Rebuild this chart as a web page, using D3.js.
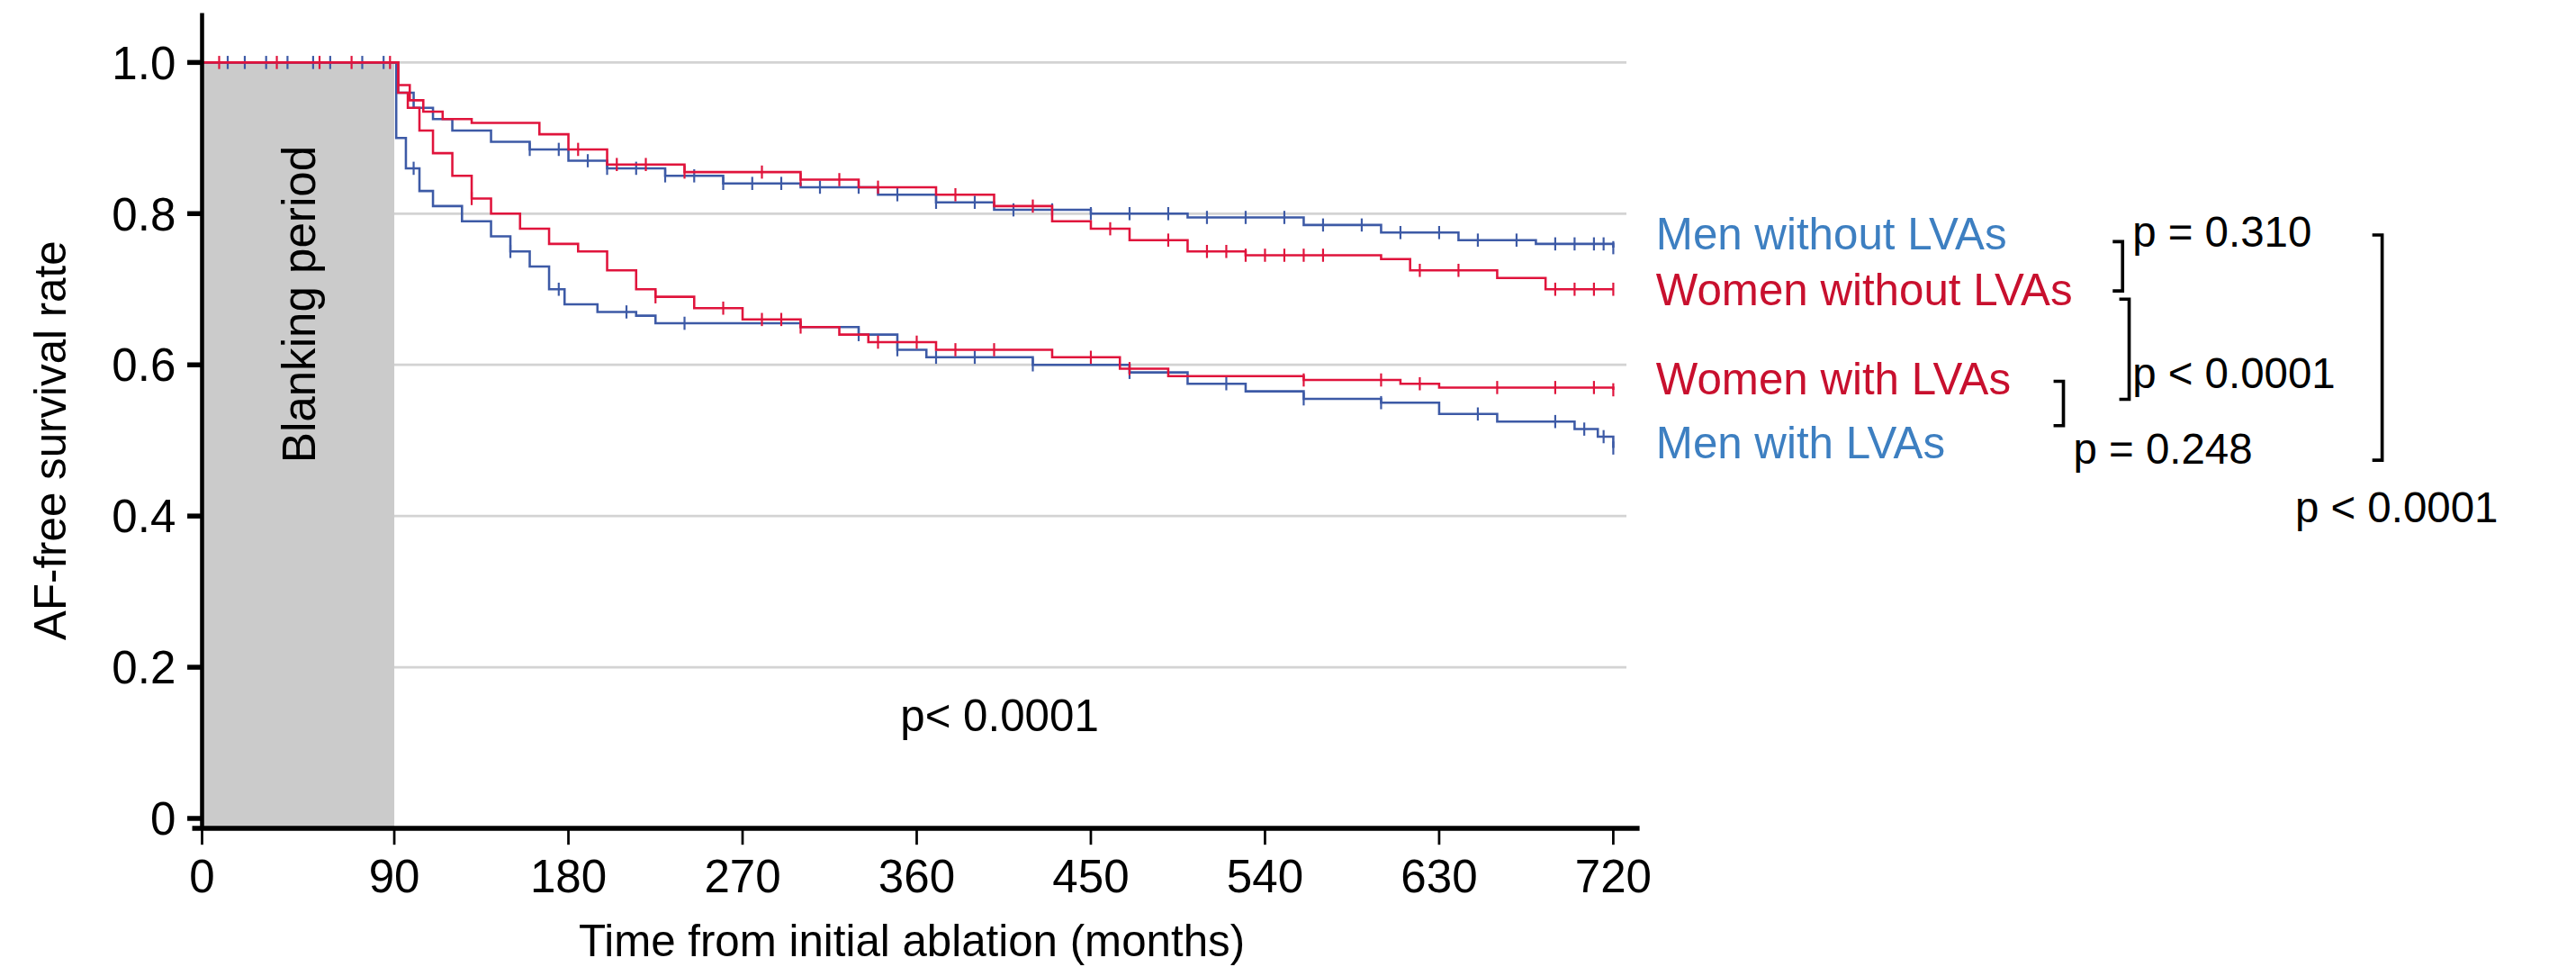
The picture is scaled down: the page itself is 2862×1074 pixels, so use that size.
<!DOCTYPE html>
<html lang="en">
<head>
<meta charset="UTF-8">
<title>AF-free survival</title>
<style>
  body { margin: 0; background: #fff; }
  svg { display: block; font-family: "Liberation Sans", Arial, sans-serif; }
</style>
<script src="https://d3js.org/d3.v7.min.js"></script>
</head>
<body>
<svg id="chart" width="2862" height="1074" viewBox="0 0 1568 588.4"></svg>
<script>
// step curves: [time, survival]
const menWithout = [[0,1],[90,1],[92,0.96],[100,0.94],[110,0.925],[120,0.91],[140,0.895],[160,0.885],[180,0.87],[200,0.86],[230,0.85],[260,0.84],[300,0.835],[340,0.825],[370,0.815],[400,0.805],[450,0.80],[500,0.795],[560,0.785],[600,0.775],[640,0.765],[680,0.76],[720,0.755]];
const womenWithout = [[0,1],[90,1],[92,0.97],[98,0.95],[105,0.935],[115,0.925],[130,0.92],[165,0.905],[180,0.885],[200,0.865],[240,0.855],[300,0.845],[330,0.835],[370,0.825],[400,0.81],[430,0.79],[450,0.78],[470,0.765],[500,0.75],[530,0.745],[600,0.74],[615,0.725],[660,0.715],[685,0.70],[720,0.70]];
const womenWith = [[0,1],[90,1],[92,0.96],[97,0.94],[103,0.91],[110,0.88],[120,0.85],[130,0.82],[140,0.80],[155,0.78],[170,0.76],[185,0.75],[200,0.725],[215,0.70],[225,0.69],[245,0.675],[270,0.66],[300,0.65],[320,0.64],[335,0.63],[370,0.62],[430,0.61],[465,0.595],[490,0.585],[560,0.58],[610,0.575],[630,0.57],[720,0.567]];
const menWith = [[0,1],[90,1],[91,0.90],[96,0.86],[103,0.83],[110,0.81],[125,0.79],[140,0.77],[150,0.75],[160,0.73],[170,0.70],[178,0.68],[195,0.67],[215,0.665],[225,0.655],[300,0.65],[330,0.64],[350,0.62],[365,0.61],[420,0.60],[470,0.59],[500,0.575],[530,0.565],[560,0.555],[600,0.55],[630,0.535],[660,0.525],[700,0.515],[712,0.505],[720,0.49]];

// censor times
const menWithoutCens = [12,20,30,40,52,60,75,85,160,175,190,200,215,230,245,260,275,290,310,330,350,370,390,410,430,450,470,490,510,530,550,570,590,610,630,650,670,690,700,710,715,720];
const womenWithoutCens = [8,35,55,70,88,185,205,220,240,280,300,320,340,380,420,460,490,510,520,530,540,550,560,570,620,640,690,700,710,720];
const womenWithCens = [130,225,260,280,290,300,340,360,380,400,450,470,560,600,620,660,690,710,720];
const menWithCens = [100,150,175,210,240,330,350,370,390,420,470,520,560,600,650,690,705,715,720];

const xTicks = [0,90,180,270,360,450,540,630,720];
const yTicks = [0,0.2,0.4,0.6,0.8,1.0];
const yTickLabels = ["0","0.2","0.4","0.6","0.8","1.0"];

const blue = "#3d5aa6", red = "#e0143c";
const series = [
  { data: menWithout, cens: menWithoutCens, color: blue },
  { data: womenWithout, cens: womenWithoutCens, color: red },
  { data: menWith, cens: menWithCens, color: blue },
  { data: womenWith, cens: womenWithCens, color: red }
];

const svg = d3.select("#chart");
// the blanking period is drawn compressed relative to the rest of the axis
const x = d3.scaleLinear().domain([0, 90, 720]).range([123, 240, 982]);
const y = d3.scaleLinear().domain([0, 1]).range([498, 38]);

// gridlines
svg.selectAll(".grid").data(yTicks.slice(1)).enter().append("line")
  .attr("x1", x(0)).attr("x2", 990)
  .attr("y1", d => y(d)).attr("y2", d => y(d))
  .attr("stroke", "#d3d3d3").attr("stroke-width", 1.5);

// blanking period
svg.append("rect").attr("x", x(0)).attr("y", y(1))
  .attr("width", x(90) - x(0)).attr("height", y(0) - y(1) + 6)
  .attr("fill", "#cbcbcb");
svg.append("text").attr("transform", `translate(${x(45)+10},${y(0.68)}) rotate(-90)`)
  .attr("text-anchor", "middle").attr("font-size", 28).text("Blanking period");

// curves
const line = d3.line().x(d => x(d[0])).y(d => y(d[1])).curve(d3.curveStepAfter);
const survAt = (data, t) => { let v = 1; for (const p of data) if (p[0] <= t) v = p[1]; return v; };
series.forEach(s => {
  svg.append("path").datum(s.data).attr("d", line)
    .attr("fill", "none").attr("stroke", s.color).attr("stroke-width", 1.4);
  svg.selectAll(null).data(s.cens).enter().append("line")
    .attr("x1", d => x(d)).attr("x2", d => x(d))
    .attr("y1", d => y(survAt(s.data, d)) - 4).attr("y2", d => y(survAt(s.data, d)) + 4)
    .attr("stroke", s.color).attr("stroke-width", 1.2);
});

// axes
const ax = svg.append("g").attr("stroke", "#000");
ax.append("line").attr("x1", x(0)).attr("x2", x(0)).attr("y1", 8).attr("y2", 504).attr("stroke-width", 2.5);
ax.append("line").attr("x1", 117).attr("x2", 998).attr("y1", 504).attr("y2", 504).attr("stroke-width", 3);
svg.selectAll(".yt").data(yTicks).enter().append("line")
  .attr("x1", 114).attr("x2", x(0)).attr("y1", d => y(d)).attr("y2", d => y(d))
  .attr("stroke", "#000").attr("stroke-width", 3);
svg.selectAll(".ytl").data(yTicks).enter().append("text")
  .attr("x", 107).attr("y", d => y(d) + 10).attr("text-anchor", "end")
  .attr("font-size", 28).text((d, i) => yTickLabels[i]);
svg.selectAll(".xt").data(xTicks).enter().append("line")
  .attr("x1", d => x(d)).attr("x2", d => x(d)).attr("y1", 504).attr("y2", 514)
  .attr("stroke", "#000").attr("stroke-width", 1.5);
svg.selectAll(".xtl").data(xTicks).enter().append("text")
  .attr("x", d => x(d)).attr("y", 543).attr("text-anchor", "middle")
  .attr("font-size", 28).text(d => d);

svg.append("text").attr("x", 555).attr("y", 582).attr("text-anchor", "middle")
  .attr("font-size", 27).text("Time from initial ablation (months)");
svg.append("text").attr("transform", "translate(40,268) rotate(-90)")
  .attr("text-anchor", "middle").attr("font-size", 27).text("AF-free survival rate");
svg.append("text").attr("x", 548).attr("y", 445).attr("font-size", 27).text("p< 0.0001");

// legend labels
const legend = [
  { label: "Men without LVAs", color: "#3d7fc1", yy: 152 },
  { label: "Women without LVAs", color: "#c8102e", yy: 186 },
  { label: "Women with LVAs", color: "#c8102e", yy: 240 },
  { label: "Men with LVAs", color: "#3d7fc1", yy: 279 }
];
svg.selectAll(".lg").data(legend).enter().append("text")
  .attr("x", 1008).attr("y", d => d.yy).attr("fill", d => d.color)
  .attr("font-size", 27).text(d => d.label);

// brackets and p-values
const br = (xx, y1, y2) => svg.append("path")
  .attr("d", `M${xx-6},${y1}H${xx}V${y2}H${xx-6}`)
  .attr("fill", "none").attr("stroke", "#000").attr("stroke-width", 2);
br(1292, 147, 177);
br(1296, 182, 243);
br(1256, 232, 259);
br(1450, 143, 280);
const pt = (xx, yy, t) => svg.append("text").attr("x", xx).attr("y", yy).attr("font-size", 26).text(t);
pt(1298, 150, "p = 0.310");
pt(1298, 236, "p < 0.0001");
pt(1262, 282, "p = 0.248");
pt(1397, 318, "p < 0.0001");
</script>
</body>
</html>
